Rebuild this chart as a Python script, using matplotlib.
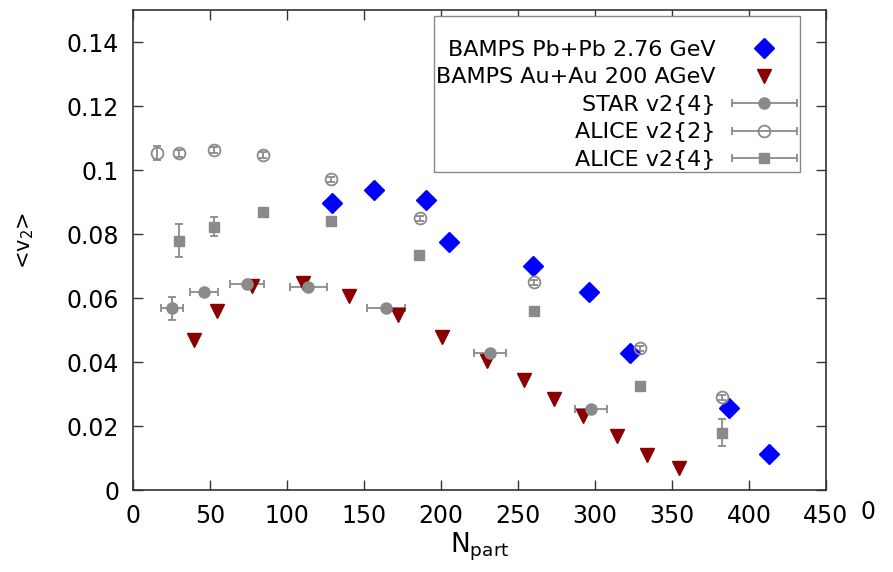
import numpy as np
import matplotlib
matplotlib.use("Agg")
import matplotlib.pyplot as plt
from matplotlib.lines import Line2D
from matplotlib.legend_handler import HandlerErrorbar

matplotlib.rcParams["font.family"] = "DejaVu Sans"
matplotlib.rcParams["mathtext.default"] = "regular"

# BAMPS Pb+Pb 2.76 GeV
pbpb_x = [129, 156.5, 190, 205, 260, 296, 323, 387, 413]
pbpb_y = [0.0897, 0.0938, 0.0906, 0.0775, 0.0700, 0.0619, 0.0428, 0.0256, 0.0113]

# BAMPS Au+Au 200 AGeV
auau_x = [39.8, 54.4, 77.5, 110.6, 140.5, 171.9, 200.5, 229.6, 254.1, 273.6, 292.4, 314.1, 333.6, 354.7]
auau_y = [0.0469, 0.0559, 0.0638, 0.0648, 0.0606, 0.0547, 0.0479, 0.0403, 0.0344, 0.0284, 0.0232, 0.0170, 0.0109, 0.0068]

# STAR v2{4}
star_x = [25.5, 45.9, 74.2, 113.8, 164.3, 231.8, 297.6]
star_y = [0.0568, 0.0618, 0.0644, 0.0633, 0.0568, 0.0429, 0.0253]
star_xerr = [7.2, 9.2, 11.0, 12.0, 12.3, 10.4, 10.3]
star_yerr = [0.0036, 0, 0, 0, 0, 0, 0]

# ALICE v2{2}
a2_x = [15.8, 29.9, 52.8, 84.6, 128.6, 186.4, 260.4, 329.2, 382.3]
a2_y = [0.1052, 0.1052, 0.1063, 0.1047, 0.0971, 0.0849, 0.0649, 0.0443, 0.0290]
a2_yerr = [0.0022, 0.0012, 0.0010, 0.0008, 0.0008, 0.0008, 0.0008, 0.0008, 0.0008]

# ALICE v2{4}
a4_x = [30.1, 52.6, 84.6, 128.6, 185.9, 260.4, 329.2, 382.3]
a4_y = [0.0779, 0.0823, 0.0870, 0.0842, 0.0733, 0.0559, 0.0326, 0.0179]
a4_yerr = [0.0051, 0.0029, 0.0010, 0.0008, 0.0008, 0.0008, 0.0008, 0.0043]

labels = ["BAMPS Pb+Pb 2.76 GeV", "BAMPS Au+Au 200 AGeV", "STAR v2{4}",
          "ALICE v2{2}", "ALICE v2{4}"]

gray = "#8a8a8a"
blue = "#0000ff"
red = "#8b0000"

fig = plt.figure(figsize=(8.93, 5.72), dpi=100)
ax = fig.add_axes([133 / 893, 82 / 572, 693 / 893, 480 / 572])

eb = dict(ecolor=gray, elinewidth=1.3, capsize=3, capthick=1.3, linestyle="none")
ax.errorbar(a2_x, a2_y, yerr=a2_yerr, fmt="o", ms=8.5, mfc="none", mec=gray, mew=1.3, **eb)
ax.errorbar(a4_x, a4_y, yerr=a4_yerr, fmt="s", ms=7, color=gray, **eb)
ax.errorbar(star_x, star_y, xerr=star_xerr, yerr=star_yerr, fmt="o", ms=8, color=gray, **eb)
ax.plot(auau_x, auau_y, "v", ms=10, color=red, linestyle="none")
ax.plot(pbpb_x, pbpb_y, "D", ms=10.5, color=blue, linestyle="none")

ax.set_xlim(0, 450)
ax.set_ylim(0, 0.15)
ax.set_xticks(np.arange(0, 451, 50))
ax.set_yticks([0, 0.02, 0.04, 0.06, 0.08, 0.1, 0.12, 0.14])
ax.set_yticklabels(["0", "0.02", "0.04", "0.06", "0.08", "0.1", "0.12", "0.14"])
ax.tick_params(direction="in", top=True, right=True, length=7, width=1.0,
               labelsize=17, pad=10, color="#333333")
for s in ax.spines.values():
    s.set_linewidth(1.2)
    s.set_color("#333333")

ax.set_xlabel("N$_{part}$", fontsize=19)
ax.xaxis.set_label_coords(0.5, -0.085)
ax.set_ylabel("<v$_2$>", fontsize=15)
ax.yaxis.set_label_coords(-0.14, 0.52)

# legend proxies
h1 = Line2D([], [], marker="D", ms=10.5, color=blue, linestyle="none")
h2 = Line2D([], [], marker="v", ms=10, color=red, linestyle="none")
h3 = ax.errorbar([np.nan], [np.nan], xerr=[1], fmt="o", ms=8, color=gray, **eb)
h4 = ax.errorbar([np.nan], [np.nan], xerr=[1], fmt="o", ms=8.5, mfc="none", mec=gray, mew=1.3, **eb)
h5 = ax.errorbar([np.nan], [np.nan], xerr=[1], fmt="s", ms=7, color=gray, **eb)
leg = ax.legend([h1, h2, h3, h4, h5], labels,
                loc="upper right", bbox_to_anchor=(0.9625, 0.9875), borderaxespad=0,
                markerfirst=False, fontsize=16, handlelength=3.0, handletextpad=0.7,
                labelspacing=0.34, borderpad=0.1, fancybox=False, framealpha=1,
                title=" ", title_fontsize=10,
                handler_map={type(h3): HandlerErrorbar(xerr_size=1.45)})
leg.get_frame().set_edgecolor("#888888")
leg.get_frame().set_linewidth(1.0)

fig.text(868 / 893, 1 - 512 / 572, "0", ha="center", va="center", fontsize=17)

fig.savefig("out.png", dpi=100)
